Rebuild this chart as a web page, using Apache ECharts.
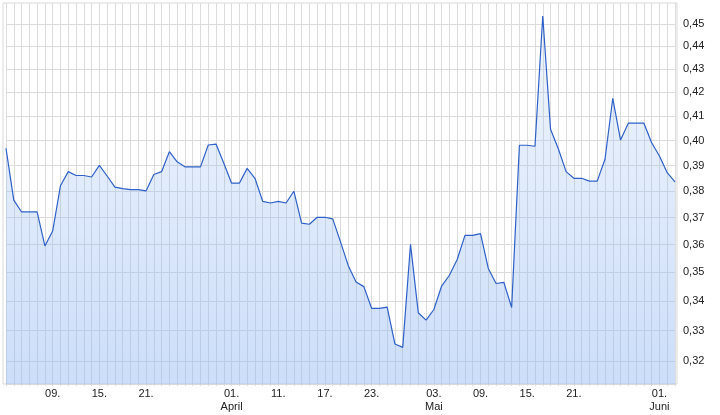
<!DOCTYPE html>
<html>
<head>
<meta charset="utf-8">
<script src="https://cdn.jsdelivr.net/npm/echarts@6/dist/echarts.min.js"></script>
<style>
html,body{margin:0;padding:0;background:#fff;}
#chart{width:720px;height:415px;}
</style>
</head>
<body>
<div id="chart"></div>
<script>
const dates = [
'03.03','04.03','05.03','06.03','07.03','08.03','09.03','10.03','11.03','12.03',
'13.03','14.03','15.03','16.03','17.03','18.03','19.03','20.03','21.03','22.03',
'23.03','24.03','25.03','26.03','27.03','28.03','29.03','30.03','31.03',
'01.04','03.04','04.04','05.04','08.04','10.04','11.04','12.04','13.04','14.04',
'15.04','16.04','17.04','18.04','19.04','20.04','21.04','22.04','23.04','24.04',
'25.04','26.04','27.04','28.04','29.04','30.04',
'03.05','04.05','05.05','06.05','07.05','08.05','09.05','10.05','11.05','12.05',
'13.05','14.05','15.05','16.05','17.05','18.05','19.05','20.05','21.05','22.05',
'23.05','24.05','25.05','26.05','27.05','28.05','29.05','30.05','31.05',
'01.06','02.06','03.06'
];

const prices = [
0.3969,0.3766,0.3721,0.3721,0.3721,0.3595,0.3650,0.3821,0.3876,0.3861,
0.3861,0.3855,0.3901,0.3859,0.3816,0.3810,0.3806,0.3806,0.3801,0.3865,
0.3876,0.3955,0.3915,0.3895,0.3895,0.3895,0.3982,0.3986,0.3909,0.3831,
0.3831,0.3889,0.3850,0.3761,0.3755,0.3761,0.3755,0.3800,0.3679,0.3675,
0.3701,0.3701,0.3695,0.3610,0.3524,0.3466,0.3450,0.3375,0.3375,0.3379,
0.3255,0.3244,0.3601,0.3360,0.3335,0.3371,0.3452,0.3490,0.3546,0.3634,
0.3634,0.3640,0.3514,0.3461,0.3465,0.3378,0.3981,0.3981,0.3977,0.4538,
0.4046,0.3967,0.3876,0.3850,0.3850,0.3839,0.3839,0.3925,0.4175,0.4002,
0.4071,0.4071,0.4071,0.3991,0.3938,0.3872,0.3836
];

const xTickLabels = ['09.03','15.03','21.03','01.04','11.04','17.04','23.04','03.05','09.05','15.05','21.05','01.06'];
const monthLabels = {'01.04':'April','03.05':'Mai','01.06':'Juni'};
const yTicks = [0.32,0.33,0.34,0.35,0.36,0.37,0.38,0.39,0.40,0.41,0.42,0.43,0.44,0.45];

const chart = echarts.init(document.getElementById('chart'), null, {renderer:'canvas', width:720, height:415});
const font = 'Liberation Sans, Arial, sans-serif';
chart.setOption({
  animation:false,
  backgroundColor:'#ffffff',
  grid:{left:6,width:669,top:3,height:381,containLabel:false,outerBoundsMode:'none'},
  graphic:[{
    type:'rect', z:-1, silent:true,
    shape:{x:3,y:3,width:674,height:381},
    style:{fill:'none',stroke:'#d9d9d9',lineWidth:1}
  }],
  xAxis:{
    type:'category',
    data:dates,
    boundaryGap:false,
    axisLine:{show:true,lineStyle:{color:'#d9d9d9',width:1}},
    axisTick:{show:true,interval:0,length:2,lineStyle:{color:'#d9d9d9'}},
    splitLine:{show:true,interval:0,lineStyle:{color:'#dcdcdc',width:1}},
    axisLabel:{
      interval:0,
      margin:3,
      color:'#222',
      fontFamily:font,
      fontSize:11,
      lineHeight:13,
      formatter:function(v){
        if (xTickLabels.indexOf(v) < 0) return '';
        let s = v.slice(0,2)+'.';
        if (monthLabels[v]) s += '\n'+monthLabels[v];
        return s;
      }
    }
  },
  yAxis:{
    type:'log',
    position:'right',
    min:0.3126,
    max:0.4598,
    axisLine:{show:false},
    axisTick:{show:false,customValues:yTicks},
    splitLine:{show:true,lineStyle:{color:'#dcdcdc',width:1}},
    axisLabel:{
      customValues:yTicks,
      margin:8,
      color:'#222',
      fontFamily:font,
      fontSize:11,
      formatter:function(v){ return Number(v).toFixed(2).replace('.',','); }
    }
  },
  series:[{
    type:'line',
    data:prices,
    symbol:'none',
    lineStyle:{color:'#2d60c8',width:1.2},
    areaStyle:{
      color:new echarts.graphic.LinearGradient(0,0,0,1,[
        {offset:0,color:'rgba(145,183,243,0.18)'},
        {offset:1,color:'rgba(145,183,243,0.66)'}
      ])
    }
  }]
});
</script>
</body>
</html>
